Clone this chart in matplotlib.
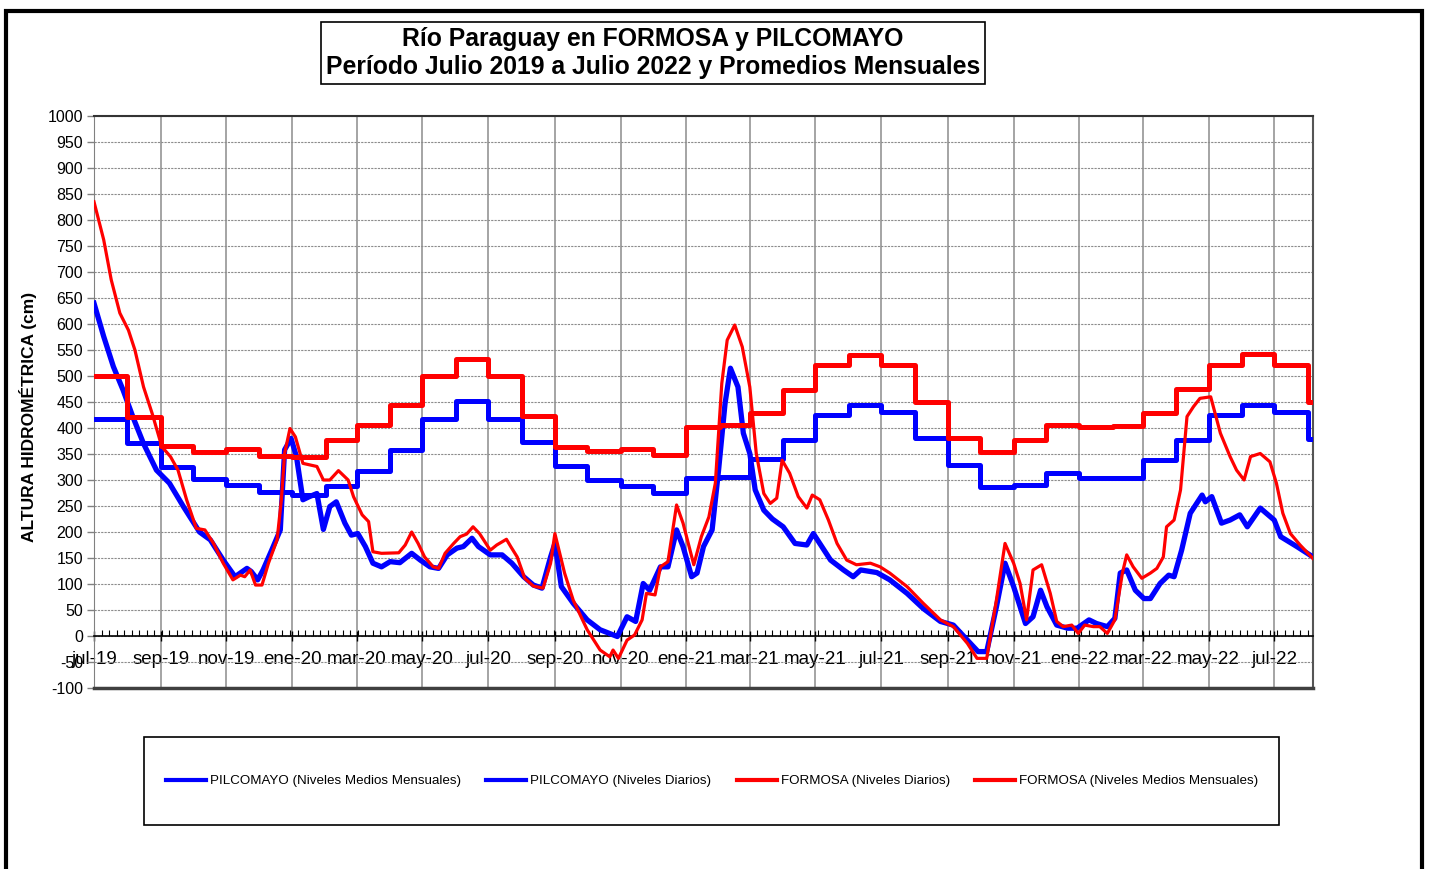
import matplotlib
matplotlib.use("Agg")
import matplotlib.pyplot as plt
from matplotlib.patches import Rectangle
import matplotlib.ticker as mticker
import matplotlib.dates as mdates
import pandas as pd

plt.rcParams['font.family'] = ['Liberation Sans', 'DejaVu Sans']
plt.rcParams['axes.unicode_minus'] = False

start = pd.Timestamp('2019-07-01')
end = pd.Timestamp('2022-08-06')

# monthly mean levels (cm), one value per month from jul-19 to ago-22
pil_mensual = [418, 371, 325, 301, 290, 277, 271, 289, 318, 357, 417, 452, 417, 373,
               326, 300, 289, 275, 304, 305, 340, 377, 425, 444, 431, 381, 328, 287,
               291, 314, 304, 303, 338, 377, 425, 444, 431, 379]
for_mensual = [500, 421, 365, 354, 359, 347, 344, 377, 406, 445, 500, 533, 500, 423,
               364, 355, 360, 349, 402, 405, 428, 473, 521, 541, 521, 450, 381, 353,
               377, 406, 401, 404, 428, 475, 521, 542, 521, 450]

# daily levels: days since 1 jul 2019 and height in cm
pil_dia = [0, 9, 18, 27, 36, 46, 58, 70, 83, 98, 108, 120, 131, 142, 146, 152, 157,
           165, 173, 177, 183, 188, 194, 200, 207, 213, 219, 225, 233, 239, 245, 252,
           259, 267, 275, 284, 295, 303, 312, 320, 328, 337, 343, 351, 357, 368, 379,
           388, 399, 408, 416, 424, 428, 434, 445, 458, 470, 486, 495, 503, 510, 516,
           526, 533, 541, 547, 555, 560, 566, 574, 580, 586, 591, 598, 603, 609, 614,
           622, 630, 640, 651, 662, 668, 674, 684, 696, 705, 712, 727, 739, 755, 770,
           786, 798, 811, 821, 829, 838, 846, 854, 865, 872, 879, 885, 894, 904, 913,
           924, 931, 941, 948, 953, 959, 967, 975, 981, 990, 998, 1003, 1010, 1018,
           1029, 1032, 1038, 1047, 1055, 1064, 1071, 1083, 1096, 1102, 1117, 1132]
pil_cm = [640, 576, 518, 473, 422, 370, 319, 294, 249, 200, 185, 146, 114, 130, 124,
          108, 127, 165, 204, 358, 380, 345, 262, 268, 274, 205, 249, 258, 217, 194,
          197, 172, 140, 133, 143, 141, 159, 146, 133, 130, 156, 169, 172, 188, 172,
          156, 156, 140, 114, 98, 92, 152, 178, 95, 63, 31, 12, -1, 37, 28, 101, 88,
          133, 133, 204, 172, 114, 121, 172, 204, 319, 447, 515, 479, 390, 351, 281,
          242, 225, 210, 178, 175, 197, 178, 146, 127, 114, 127, 122, 108, 82, 53, 28,
          21, -8, -30, -30, 56, 140, 95, 24, 37, 88, 56, 21, 15, 15, 31, 24, 18, 34,
          121, 127, 88, 72, 72, 101, 117, 114, 165, 236, 271, 258, 268, 217, 223,
          233, 210, 246, 223, 191, 172, 152]

for_dia = [0, 9, 16, 24, 32, 38, 46, 54, 63, 71, 78, 86, 95, 103, 111, 120, 129, 136,
           140, 145, 150, 156, 162, 170, 174, 177, 182, 187, 194, 207, 213, 219, 227,
           236, 241, 249, 255, 259, 267, 283, 289, 295, 301, 307, 315, 320, 326, 334,
           340, 346, 352, 358, 368, 374, 383, 387, 393, 400, 408, 417, 424, 428, 437,
           445, 458, 470, 479, 482, 487, 495, 502, 509, 513, 521, 526, 533, 541, 547,
           557, 564, 571, 577, 583, 588, 595, 602, 609, 615, 622, 628, 634, 639, 646,
           654, 662, 667, 674, 682, 690, 699, 708, 721, 730, 739, 755, 770, 786, 798,
           811, 820, 829, 838, 846, 854, 860, 866, 872, 880, 888, 894, 900, 908, 914,
           920, 928, 934, 941, 948, 955, 959, 965, 973, 981, 987, 993, 996, 1003, 1009,
           1015, 1021, 1027, 1037, 1046, 1055, 1061, 1068, 1074, 1083, 1092, 1098,
           1104, 1111, 1120, 1132]
for_cm = [835, 762, 685, 621, 588, 550, 479, 428, 364, 345, 319, 262, 207, 204, 178,
          140, 108, 117, 114, 127, 98, 98, 140, 185, 262, 351, 399, 383, 332, 326, 300,
          300, 318, 300, 268, 233, 220, 162, 159, 160, 175, 200, 178, 152, 133, 130,
          159, 178, 191, 196, 210, 197, 165, 175, 186, 172, 152, 111, 96, 92, 140, 197,
          121, 69, 12, -27, -40, -27, -43, -8, 2, 31, 82, 79, 133, 143, 252, 217, 137,
          191, 229, 294, 486, 569, 598, 556, 479, 351, 274, 255, 265, 338, 313, 268,
          246, 271, 262, 223, 178, 146, 137, 140, 133, 121, 95, 63, 31, 18, -14, -43,
          -43, 69, 178, 140, 101, 31, 127, 137, 82, 28, 18, 21, 5, 21, 18, 18, 5, 31,
          121, 156, 133, 111, 121, 130, 152, 210, 223, 281, 422, 441, 457, 460, 390,
          345, 319, 300, 345, 351, 335, 294, 236, 197, 175, 149]

meses = ['ene', 'feb', 'mar', 'abr', 'may', 'jun', 'jul', 'ago', 'sep', 'oct', 'nov', 'dic']

# build the series
meses_ini = pd.date_range(start, periods=len(pil_mensual), freq='MS')
x_mensual = list(meses_ini) + [end]
pil_m = pil_mensual + [pil_mensual[-1]]
for_m = for_mensual + [for_mensual[-1]]
x_pil = start + pd.to_timedelta(pil_dia, unit='D')
x_for = start + pd.to_timedelta(for_dia, unit='D')

fig = plt.figure(figsize=(14.31, 8.69), dpi=100)
ax = fig.add_axes([94 / 1431, 1 - 688 / 869, (1313 - 94) / 1431, (688 - 116) / 869])

ax.plot(x_mensual, pil_m, drawstyle='steps-post', color='#0000FF', lw=3.6,
        label='PILCOMAYO (Niveles Medios Mensuales)', zorder=3)
ax.plot(x_pil, pil_cm, color='#0000FF', lw=3.8,
        label='PILCOMAYO (Niveles Diarios)', zorder=4)
ax.plot(x_for, for_cm, color='#FF0000', lw=2.3,
        label='FORMOSA (Niveles Diarios)', zorder=5)
ax.plot(x_mensual, for_m, drawstyle='steps-post', color='#FF0000', lw=3.6,
        label='FORMOSA (Niveles Medios Mensuales)', zorder=4)

ax.set_xlim(start, end)
ax.set_ylim(-100, 1000)
ax.yaxis.set_major_locator(mticker.MultipleLocator(50))

# x axis sits on the zero line
ax.spines['bottom'].set_position(('data', 0))
ax.spines['bottom'].set_color('black')
ax.spines['bottom'].set_linewidth(1.2)
ax.spines['top'].set_color('#333333')
ax.spines['top'].set_linewidth(1.5)
ax.spines['right'].set_color('#555555')
ax.spines['right'].set_linewidth(1.5)
ax.spines['left'].set_color('#808080')
ax.axhline(-100, color='#404040', lw=2.5, clip_on=False, zorder=6)

ticks = pd.date_range(start, '2022-07-01', freq='2MS')
ax.set_xticks(ticks)
ax.set_xticklabels([f"{meses[d.month - 1]}-{d.strftime('%y')}" for d in ticks], fontsize=13.5)
ax.xaxis.set_minor_locator(mticker.FixedLocator(
    mdates.date2num(pd.date_range(start, end, freq='7D'))))
ax.tick_params(axis='x', which='major', direction='inout', length=7, width=1, pad=7)
ax.tick_params(axis='x', which='minor', direction='in', length=4, width=0.8)
ax.tick_params(axis='y', which='major', direction='out', length=5, width=1,
               labelsize=11.5, color='#808080', pad=3)

ax.grid(axis='x', which='major', color='#8c8c8c', lw=1.1, ls='-')
ax.grid(axis='y', which='major', color='#8c8c8c', lw=0.8, ls=(0, (2, 1)))
ax.set_axisbelow(True)

fig.text(28 / 1431, 1 - 417 / 869, 'ALTURA HIDROMÉTRICA (cm)', rotation=90,
         ha='center', va='center', fontsize=12.5, fontweight='bold')

fig.text(653 / 1431, 1 - 53 / 869,
         'Río Paraguay en FORMOSA y PILCOMAYO\n'
         'Período Julio 2019 a Julio 2022 y Promedios Mensuales',
         ha='center', va='center', fontsize=17.8, fontweight='bold', linespacing=1.22,
         bbox=dict(boxstyle='square,pad=0.18', fc='white', ec='black', lw=1.2))

# legend box
fig.add_artist(Rectangle((144 / 1431, 1 - 825 / 869), 1135 / 1431, 88 / 869,
                         transform=fig.transFigure, fill=False, ec='black', lw=1.2))
leg = fig.legend(loc='center', bbox_to_anchor=(712 / 1431, 1 - 781 / 869), ncol=4,
                 frameon=False, prop={'size': 9.6},
                 handlelength=3.0, handletextpad=0.3, columnspacing=1.9)
for h in leg.get_lines():
    h.set_linewidth(3)

# outer border
fig.add_artist(Rectangle((6 / 1431, -0.2), 1416 / 1431, 1.2 - 11 / 869,
                         transform=fig.transFigure, fill=False, ec='black', lw=3))

fig.savefig('out.png', dpi=100)
